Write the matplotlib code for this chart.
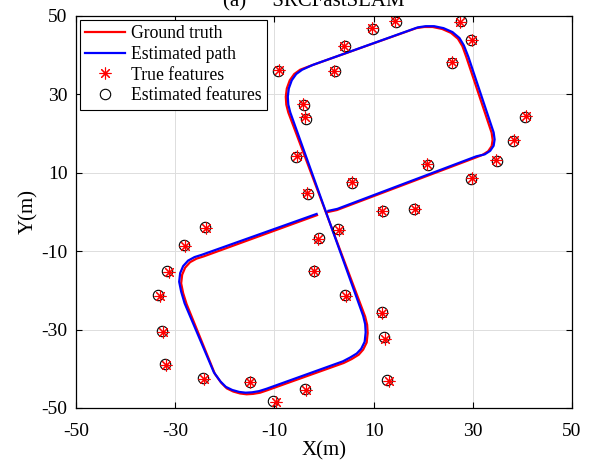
import matplotlib
matplotlib.use('Agg')
import matplotlib.pyplot as plt

# ground truth trajectory
gt_x = [0.8, 2.6, 30.6, 32.0, 33.1, 33.8, 34.0, 33.8, 28.7,
        27.9, 27.0, 25.6, 23.8, 21.9, 20.2, 18.6, -2.5,
        -4.8, -6.0, -6.9, -7.5, -7.7, -7.6, -7.2, 8.3,
        8.7, 8.8, 8.6, 7.9, 7.0, 5.6, 4.0, -11.5,
        -12.9, -14.3, -15.6, -16.9, -18.3, -19.6, -20.7, -22.0, -27.7,
        -28.4, -28.8, -28.6, -28.0, -27.0, -25.7, -24.2, -1.4]
gt_y = [0.0, 0.5, 13.9, 14.6, 15.5, 16.8, 18.4, 20.2, 39.5,
        42.3, 44.2, 45.7, 46.7, 47.2, 47.2, 46.9, 37.4,
        36.3, 35.2, 33.6, 31.5, 29.4, 27.4, 25.4, -26.7,
        -28.8, -30.9, -33.3, -35.1, -36.4, -37.5, -38.5, -45.5,
        -46.1, -46.4, -46.5, -46.3, -45.8, -45.0, -43.6, -41.3, -23.5,
        -20.7, -18.2, -16.0, -14.2, -12.8, -11.9, -11.3, -0.8]

# estimated trajectory
est_x = [0.9, 2.7, 30.7, 32.4, 33.5, 34.2, 34.4, 34.2, 29.1,
         28.2, 27.3, 25.9, 24.1, 22.2, 20.5, 18.9, -2.3,
         -4.4, -5.6, -6.5, -7.1, -7.3, -7.2, -6.8, 7.9,
         8.3, 8.4, 8.2, 7.5, 6.6, 5.3, 3.8, -11.6,
         -13.1, -14.5, -15.8, -17.1, -18.5, -19.8, -20.9, -22.2, -28.1,
         -28.8, -29.2, -29.0, -28.4, -27.4, -26.1, -24.6, -1.5]
est_y = [0.3, 0.8, 14.2, 14.7, 15.6, 16.9, 18.5, 20.3, 39.6,
         42.5, 44.4, 45.9, 46.9, 47.4, 47.4, 47.1, 37.5,
         36.3, 35.2, 33.6, 31.5, 29.4, 27.4, 25.4, -26.5,
         -28.6, -30.7, -33.1, -34.9, -36.1, -37.1, -38.1, -45.1,
         -45.7, -46.0, -46.1, -45.9, -45.4, -44.6, -43.2, -40.9, -23.3,
         -20.3, -17.8, -15.6, -13.8, -12.4, -11.5, -10.9, -0.5]

# landmarks
true_fx = [-9.1, 4.0, 9.7, 14.3, 27.4, 29.8, 25.8, 2.0, -4.2, -3.8,
           -5.4, 40.7, 38.3, 34.7, 20.8, 29.8, 5.6, -3.4, 11.7, 18.3,
           3.0, -1.2, -2.0, 4.4, 11.7, 12.3, 13.1, -3.6, -23.8, -28.0,
           -31.3, -33.1, -32.5, -31.9, -24.2, -14.9, -9.7]
true_fy = [36.2, 42.3, 46.9, 48.7, 48.5, 43.9, 38.3, 36.0, 27.6, 24.2,
           14.3, 24.5, 18.4, 13.3, 12.2, 8.7, 7.7, 4.8, 0.3, 0.8,
           -4.6, -6.9, -15.1, -21.4, -25.8, -32.4, -43.1, -45.4, -4.1, -8.7,
           -15.3, -21.4, -30.6, -39.0, -42.6, -43.4, -48.5]
est_fx = [-9.3, 4.2, 9.9, 14.5, 27.7, 29.6, 25.9, 2.2, -4.0, -3.6,
          -5.6, 40.6, 38.1, 34.8, 20.9, 29.7, 5.7, -3.3, 11.8, 18.2,
          2.8, -1.0, -2.1, 4.3, 11.6, 12.1, 12.7, -3.8, -24.0, -28.2,
          -31.6, -33.4, -32.7, -32.0, -24.4, -15.0, -10.2]
est_fy = [36.0, 42.4, 46.7, 48.5, 48.6, 44.0, 38.0, 35.9, 27.3, 23.8,
          14.1, 24.3, 18.2, 13.1, 12.0, 8.5, 7.5, 4.6, 0.2, 0.7,
          -4.4, -6.6, -15.0, -21.2, -25.6, -32.0, -42.8, -45.2, -3.9, -8.5,
          -15.1, -21.1, -30.3, -38.8, -42.4, -43.3, -48.3]

plt.rcParams['font.family'] = ['Liberation Serif', 'DejaVu Serif']
plt.rcParams['axes.unicode_minus'] = False

fig = plt.figure(figsize=(5.95, 4.62), dpi=100)
ax = fig.add_axes([76 / 595, 1 - 408 / 462, 496 / 595, 392 / 462])

l1, = ax.plot(gt_x, gt_y, color='r', lw=1.6)
l2, = ax.plot(est_x, est_y, color='b', lw=1.6)
h4, = ax.plot(est_fx, est_fy, ls='none', marker='o', mfc='none', mec='k', ms=7.5, mew=0.8)
h3, = ax.plot(true_fx, true_fy, ls='none', marker=(8, 2, 0), color='r', ms=8.5, mew=0.8)

ax.set_xlim(-50, 50)
ax.set_ylim(-50, 50)
ax.set_xticks(range(-50, 51, 20))
ax.set_yticks(range(-50, 51, 20))
ax.grid(True, color='#dddddd', lw=0.7)
ax.set_axisbelow(True)
ax.tick_params(direction='in', top=True, right=True, length=4, width=0.8,
               labelsize=14, pad=6)
ax.tick_params(axis='x', pad=11)
for s in ax.spines.values():
    s.set_linewidth(0.9)
ax.set_xlabel('X(m)', fontsize=15, labelpad=0.5)
ax.set_ylabel('Y(m)', fontsize=15, labelpad=2)
ax.text(0.48, 1.024, '(a)     SRCFastSLAM', transform=ax.transAxes,
        ha='center', va='baseline', fontsize=15)

leg = ax.legend([l1, l2, h3, h4],
                ['Ground truth', 'Estimated path', 'True features', 'Estimated features'],
                loc='upper left', fontsize=12.7, fancybox=False, edgecolor='k',
                framealpha=1, borderaxespad=0.2, borderpad=0.3, handlelength=2.3,
                handletextpad=0.3, labelspacing=0.22)
leg.get_frame().set_linewidth(0.8)

fig.savefig('out.png', dpi=100)
